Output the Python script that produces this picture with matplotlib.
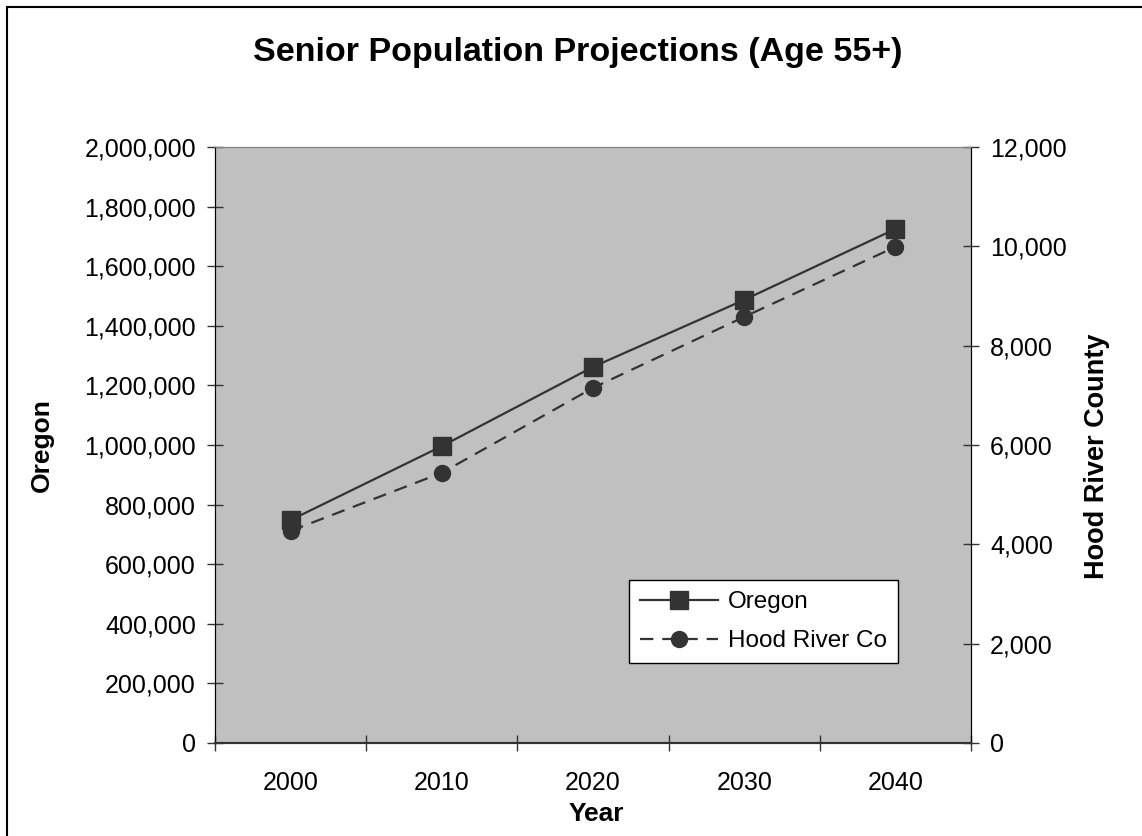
import matplotlib
matplotlib.use('Agg')
import matplotlib.pyplot as plt
from matplotlib.ticker import FuncFormatter
from matplotlib.patches import Rectangle

# data
years = ['2000', '2010', '2020', '2030', '2040']
oregon = [748000, 996000, 1262000, 1487000, 1725000]
hood_river = [4270, 5440, 7150, 8580, 9990]

plt.rcParams['font.family'] = ['Liberation Sans', 'DejaVu Sans']

W, H = 1142, 836
fig = plt.figure(figsize=(W / 100, H / 100), dpi=100)
ax = fig.add_axes([215 / W, 93 / H, 756 / W, 596 / H])
ax2 = ax.twinx()

dark = '#333333'
x = list(range(len(years)))

ax.set_facecolor('#c0c0c0')
l1, = ax.plot(x, oregon, '-', color=dark, lw=1.6, marker='s', ms=13, label='Oregon')
l2, = ax2.plot(x, hood_river, '--', color=dark, lw=1.6, marker='o', ms=11.5,
               dashes=(6, 4), label='Hood River Co')

ax.set_xlim(-0.5, 4.5)
ax.set_ylim(0, 2000000)
ax2.set_ylim(0, 12000)
ax.set_yticks(range(0, 2000001, 200000))
ax2.set_yticks(range(0, 12001, 2000))
fmt = FuncFormatter(lambda v, p: f'{int(v):,}')
ax.yaxis.set_major_formatter(fmt)
ax2.yaxis.set_major_formatter(fmt)

# ticks between categories, labels centred on categories
ax.set_xticks([i - 0.5 for i in range(len(years) + 1)])
ax.set_xticklabels([])
ax.set_xticks(x, minor=True)
ax.set_xticklabels(years, minor=True)
ax.tick_params(axis='x', which='minor', length=0, labelsize=18, pad=20)
ax.tick_params(axis='x', which='major', direction='inout', length=12, width=1, color=dark)
ax.tick_params(axis='y', direction='inout', length=11.5, width=1, labelsize=18, pad=8, color=dark)
ax2.tick_params(axis='y', direction='inout', length=11.5, width=1, labelsize=18, pad=8, color=dark)

for a in (ax, ax2):
    a.spines['top'].set_color('#808080')
    a.spines['left'].set_color('black')
    a.spines['right'].set_color('black')
    a.spines['bottom'].set_color(dark)
    a.spines['bottom'].set_linewidth(1.5)

fig.text(42 / W, 1 - 445 / H, 'Oregon', rotation=90, ha='center', va='center',
         fontsize=19, fontweight='bold')
fig.text(1097 / W, 1 - 456 / H, 'Hood River County', rotation=90, ha='center', va='center',
         fontsize=19.5, fontweight='bold')
fig.text(596 / W, 1 - 814 / H, 'Year', ha='center', va='center', fontsize=19, fontweight='bold')
fig.text(578 / W, 1 - 52 / H, 'Senior Population Projections (Age 55+)', ha='center', va='center',
         fontsize=24.5, fontweight='bold')

leg = ax2.legend(handles=[l1, l2], loc='lower left', bbox_to_anchor=(0.548, 0.134),
                 fontsize=17.5, frameon=True, fancybox=False, edgecolor='black',
                 framealpha=1, handlelength=3.2, handletextpad=0.4, borderpad=0.45,
                 labelspacing=0.7, borderaxespad=0)
leg.get_frame().set_linewidth(1)

# chart area border (right and bottom edges fall outside the image)
fig.add_artist(Rectangle((7 / W, -0.01), 1.02, 1 - 7 / H + 0.01, transform=fig.transFigure,
                         fill=False, edgecolor='black', lw=1.5))

fig.savefig('out.png', dpi=100)
